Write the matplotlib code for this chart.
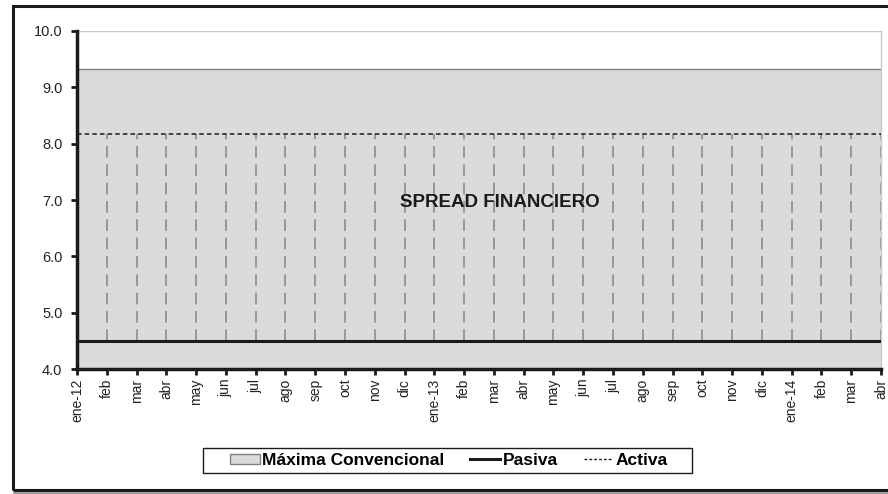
import matplotlib.pyplot as plt
import numpy as np
from matplotlib.patches import Rectangle, Patch
from matplotlib.lines import Line2D

plt.rcParams['font.family'] = ['Liberation Sans', 'DejaVu Sans']

# month labels ene-12 .. abr-14
meses = ['ene-12', 'feb', 'mar', 'abr', 'may', 'jun', 'jul', 'ago', 'sep', 'oct', 'nov', 'dic',
         'ene-13', 'feb', 'mar', 'abr', 'may', 'jun', 'jul', 'ago', 'sep', 'oct', 'nov', 'dic',
         'ene-14', 'feb', 'mar', 'abr']
maxima = [9.32] * 28
pasiva = [4.5] * 28
activa = [8.17] * 28

x = np.arange(len(meses))

fig = plt.figure(figsize=(8.88, 4.94), dpi=100)
ax = fig.add_axes([77 / 888, 1 - 369 / 494, 804 / 888, 338 / 494])

# outer frame of the chart
frame = Rectangle((13 / 888, 1 - 490 / 494), 1.0, 484 / 494, transform=fig.transFigure,
                  fill=False, edgecolor='#1a1a1a', linewidth=2.2, clip_on=False)
fig.patches.append(frame)
fig.add_artist(Line2D([14 / 888, 1.0], [1 - 492.5 / 494] * 2, transform=fig.transFigure,
                      color='#9a9a9a', linewidth=2))

# area: maxima convencional
ax.fill_between(x, 4.0, maxima, color='#dadbdd', linewidth=0, zorder=1)
ax.plot(x, maxima, color='#808080', linewidth=1.0, zorder=2)

# drop lines between pasiva and activa
ax.vlines(x, pasiva, activa, colors='#8c8c8c', linestyles=(0, (7, 4)), linewidth=1.2, zorder=2)

ax.plot(x, pasiva, color='#1a1a1a', linewidth=2.2, zorder=3)
ax.plot(x, activa, color='#1a1a1a', linewidth=1.1, linestyle=(0, (3, 2)), zorder=3)

ax.axhline(10.0, color='#c8c8c8', linewidth=1.0, zorder=0)

ax.text(14.2, 6.95, 'SPREAD FINANCIERO', ha='center', va='center', fontsize=13.5,
        fontweight='bold', color='#1a1a1a', zorder=4)

ax.set_xlim(0, 27)
ax.set_ylim(4, 10)
ax.set_yticks(np.arange(4, 10.5, 1))
ax.set_yticklabels(['%.1f' % v for v in np.arange(4, 10.5, 1)], fontsize=10.5, color='#222222')
ax.set_xticks(x)
ax.set_xticklabels(meses, rotation=90, fontsize=10, color='#222222')
ax.tick_params(axis='both', direction='out', length=4, width=2, color='#1a1a1a')
ax.tick_params(axis='y', pad=6.5)
ax.tick_params(axis='x', pad=3)

for s in ['left', 'bottom']:
    ax.spines[s].set_linewidth(2.5)
    ax.spines[s].set_color('#1a1a1a')
ax.spines['top'].set_visible(False)
ax.spines['right'].set_color('#c8c8c8')
ax.spines['right'].set_linewidth(1.0)

# legend box
legbox = Rectangle((203 / 888, 1 - 473 / 494), 489 / 888, 25 / 494, transform=fig.transFigure,
                   fill=True, facecolor='white', edgecolor='#1a1a1a', linewidth=1.0)
fig.patches.append(legbox)

handles = [Patch(facecolor='#dadbdd', edgecolor='#808080', linewidth=1),
           Line2D([], [], color='#1a1a1a', linewidth=2.2),
           Line2D([], [], color='#1a1a1a', linewidth=1.0, linestyle=(0, (2, 1.5)))]
leg = fig.legend(handles, ['Máxima Convencional', 'Pasiva', 'Activa'], ncol=3,
                 loc='center', bbox_to_anchor=(449 / 888, 1 - 460.5 / 494),
                 frameon=False,
                 prop={'weight': 'bold', 'size': 12.5},
                 handlelength=1.7, handleheight=0.5, handletextpad=0.15, columnspacing=1.5,
                 borderpad=0.2, borderaxespad=0)

fig.savefig('out.png', dpi=100)
